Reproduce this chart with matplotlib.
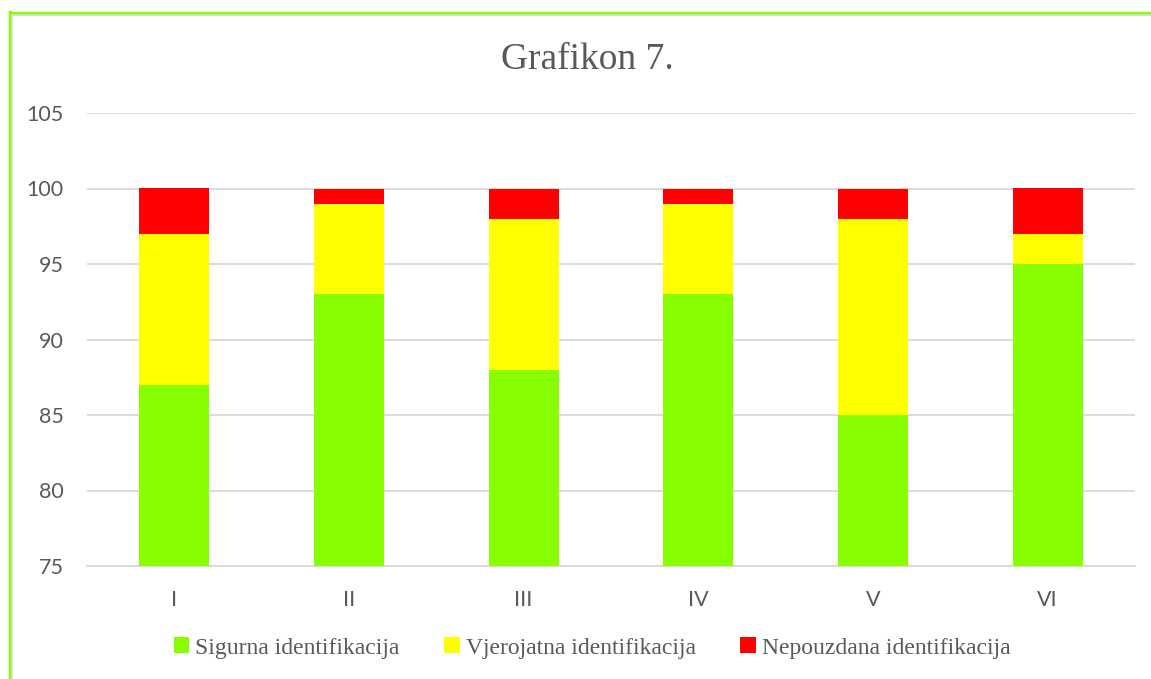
import matplotlib
matplotlib.use("Agg")
import matplotlib.pyplot as plt
from matplotlib.lines import Line2D
import numpy as np

categories = ["I", "II", "III", "IV", "V", "VI"]
sigurna = [87, 93, 88, 93, 85, 95]
vjerojatna = [10, 6, 10, 6, 13, 2]
nepouzdana = [3, 1, 2, 1, 2, 3]
series_names = ["Sigurna identifikacija", "Vjerojatna identifikacija", "Nepouzdana identifikacija"]
colors = ["#88FF00", "#FFFF00", "#FF0000"]

W, H = 1151, 679
fig = plt.figure(figsize=(W / 100, H / 100), dpi=100)
ax = fig.add_axes([87 / W, 1 - 566 / H, (1135 - 87) / W, (566 - 113) / H])

x = np.arange(len(categories))
bw = 0.4
s = np.array(sigurna)
v = np.array(vjerojatna)
n = np.array(nepouzdana)
ax.bar(x, s, bw, color=colors[0], label=series_names[0], zorder=3)
ax.bar(x, v, bw, bottom=s, color=colors[1], label=series_names[1], zorder=3)
ax.bar(x, n, bw, bottom=s + v, color=colors[2], label=series_names[2], zorder=3)

ax.set_ylim(75, 105)
ax.set_xlim(-0.5, len(categories) - 0.5)
ax.set_yticks(range(75, 106, 5))
ax.set_xticks(x)
ax.set_xticklabels(categories)
ax.grid(axis="y", color="#d9d9d9", linewidth=1.3, zorder=0)
for sp in ["top", "right", "left"]:
    ax.spines[sp].set_visible(False)
ax.spines["bottom"].set_color("#d9d9d9")
ax.spines["bottom"].set_linewidth(1.3)
ax.tick_params(axis="both", length=0, labelsize=15.5, labelcolor="#595959")
ax.tick_params(axis="y", pad=17)
ax.tick_params(axis="x", pad=17)
for lbl in ax.get_xticklabels() + ax.get_yticklabels():
    lbl.set_family(["Lato", "DejaVu Sans"])

fig.text(587 / W, 1 - 60 / H, "Grafikon 7.", ha="center", va="center",
         fontsize=27, color="#595959", family=["Liberation Serif", "DejaVu Serif"])

leg = fig.legend(loc="center", bbox_to_anchor=(592 / W, 1 - 648 / H), ncol=3,
                 frameon=False, handlelength=0.65, handleheight=0.65,
                 handletextpad=0.25, columnspacing=1.9,
                 prop={"family": ["Liberation Serif", "DejaVu Serif"], "size": 17})
for t in leg.get_texts():
    t.set_color("#595959")

# green border (left and top)
fig.add_artist(Line2D([9.5 / W, 9.5 / W], [0, 1 - 12 / H], transform=fig.transFigure,
                      color="#88FF00", linewidth=2.5))
fig.add_artist(Line2D([9.5 / W, 1], [1 - 12.5 / H, 1 - 12.5 / H], transform=fig.transFigure,
                      color="#88FF00", linewidth=2.5))
fig.add_artist(Line2D([12 / W, 1], [1 - 15 / H, 1 - 15 / H], transform=fig.transFigure,
                      color="#d9d9d9", linewidth=1.2))
fig.add_artist(Line2D([12 / W, 12 / W], [0, 1 - 15 / H], transform=fig.transFigure,
                      color="#d9d9d9", linewidth=1.2))

fig.savefig("out.png", dpi=100)
